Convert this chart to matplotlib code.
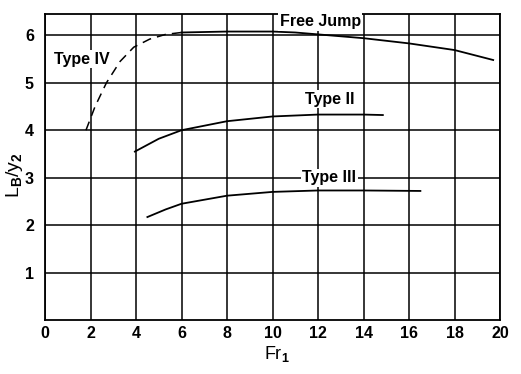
import matplotlib
matplotlib.use('Agg')
import matplotlib.pyplot as plt

plt.rcParams['font.family'] = ['Liberation Sans', 'DejaVu Sans']
plt.rcParams['font.weight'] = 'bold'
plt.rcParams['mathtext.fontset'] = 'custom'
plt.rcParams['mathtext.rm'] = 'Liberation Sans:bold'
plt.rcParams['mathtext.default'] = 'rm'

# curves
type4_x = [1.8, 2.2, 2.7, 3.3, 3.9, 4.6, 5.3, 6.0]
type4_y = [4.0, 4.5, 5.0, 5.45, 5.75, 5.92, 6.02, 6.06]

free_x = [6.0, 8.0, 10.0, 11.0, 12.0, 14.0, 16.0, 18.0, 19.7]
free_y = [6.06, 6.08, 6.08, 6.06, 6.02, 5.94, 5.83, 5.69, 5.48]

type2_x = [3.95, 5.0, 6.0, 8.0, 10.0, 12.0, 14.0, 14.85]
type2_y = [3.55, 3.82, 4.0, 4.19, 4.29, 4.33, 4.33, 4.32]

type3_x = [4.5, 5.3, 6.0, 8.0, 10.0, 12.0, 14.0, 16.5]
type3_y = [2.17, 2.33, 2.45, 2.62, 2.7, 2.73, 2.73, 2.72]

xticks = list(range(0, 21, 2))
yticks = [1, 2, 3, 4, 5, 6]

fig = plt.figure(figsize=(5.21, 3.74), dpi=100)
ax = fig.add_axes([0.0864, 0.1444, 0.8733, 0.8182])

ax.set_xlim(0, 20)
ax.set_ylim(0, 6.45)
ax.set_xticks(xticks)
ax.set_yticks(yticks)
ax.tick_params(length=0, labelsize=11.5)
ax.tick_params(axis='x', pad=4)
ax.tick_params(axis='y', pad=8)
ax.grid(True, color='black', linewidth=1.1)
ax.set_axisbelow(True)
for s in ax.spines.values():
    s.set_linewidth(1.3)

ax.plot(type4_x, type4_y, color='black', linestyle=(0, (6, 4)), linewidth=1.1)
ax.plot(free_x, free_y, color='black', linewidth=1.3)
ax.plot(type2_x, type2_y, color='black', linewidth=1.3)
ax.plot(type3_x, type3_y, color='black', linewidth=1.3)

box = dict(facecolor='white', edgecolor='none', pad=1)
ax.text(1.6, 5.5, 'Type IV', fontsize=11.5, ha='center', va='center', bbox=box)
ax.text(12.1, 6.29, 'Free Jump', fontsize=11.5, ha='center', va='center', bbox=box)
ax.text(12.5, 4.65, 'Type II', fontsize=11.5, ha='center', va='center', bbox=box)
ax.text(12.5, 3.0, 'Type III', fontsize=11.5, ha='center', va='center', bbox=box)

ax.set_xlabel('Fr$_1$', fontsize=13)
ax.set_ylabel('L$_B$/y$_2$', fontsize=14)
ax.xaxis.set_label_coords(0.51, -0.11)
ax.yaxis.set_label_coords(-0.066, 0.474)
ax.xaxis.label.set_va('center')
ax.yaxis.label.set_va('center')

fig.savefig('out.png', dpi=100)
